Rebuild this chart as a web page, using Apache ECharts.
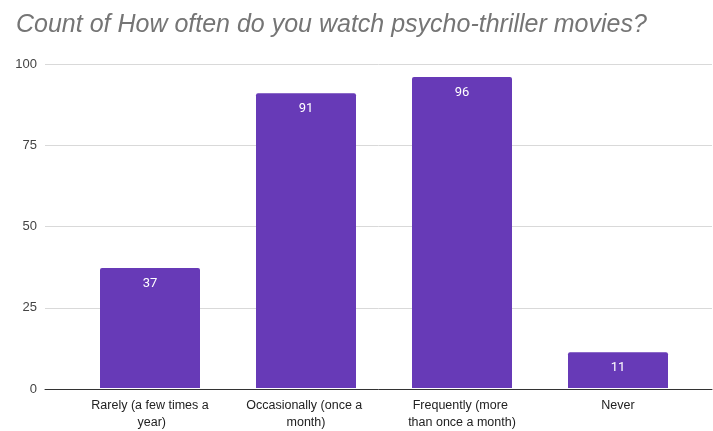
<!DOCTYPE html>
<html>
<head>
<meta charset="utf-8">
<script src="https://cdn.jsdelivr.net/npm/echarts@6/dist/echarts.min.js"></script>
<style>
	html, body { margin: 0; padding: 0; background: #fff; }
	#chart { width: 713px; height: 431px; }
</style>
</head>
<body>
<div id="chart"></div>
<script>
	var categories = ['Rarely (a few times a year)', 'Occasionally (once a month)', 'Frequently (more than once a month)', 'Never'];
	var counts = [37, 91, 96, 11];
	var yTicks = [0, 25, 50, 75, 100];

	var myChart = echarts.init(document.getElementById('chart'));

	// grid 0 carries the y labels, gridlines and baseline across the full width,
	// grid 1 holds the bars
	var option = {
		animation: false,
		title: {
			text: 'Count of How often do you watch psycho-thriller movies?',
			left: 11,
			top: 8,
			textStyle: {
				fontFamily: 'Liberation Sans',
				fontStyle: 'italic',
				fontWeight: 'normal',
				fontSize: 25,
				color: '#757575'
			}
		},
		grid: [
			{ left: 45, right: 1, top: 64, bottom: 42 },
			{ left: 72, right: 17, top: 64, bottom: 42 }
		],
		xAxis: [
			{
				gridIndex: 0, type: 'value', min: 0, max: 1,
				axisLine: { show: true, onZero: false, lineStyle: { color: '#333', width: 1 } },
				axisTick: { show: false }, axisLabel: { show: false }, splitLine: { show: false }
			},
			{
				gridIndex: 1, type: 'category', data: categories,
				axisLine: { show: false }, axisTick: { show: false },
				axisLabel: {
					interval: 0, margin: 9, width: 120, overflow: 'break',
					fontFamily: 'Liberation Sans', fontSize: 12.5, color: '#222', lineHeight: 17, align: 'center'
				}
			}
		],
		yAxis: [
			{
				gridIndex: 0, type: 'value', min: yTicks[0], max: yTicks[yTicks.length - 1], interval: 25,
				axisLine: { show: false }, axisTick: { show: false },
				axisLabel: { margin: 8, fontFamily: 'Liberation Sans', fontSize: 13, color: '#444' },
				splitLine: { lineStyle: { color: '#d9d9d9', width: 1 } }
			},
			{
				gridIndex: 1, type: 'value', min: 0, max: 100,
				show: false, splitLine: { show: false }
			}
		],
		series: [
			{
				type: 'bar', xAxisIndex: 1, yAxisIndex: 1,
				data: counts,
				barWidth: 100,
				itemStyle: { color: '#673ab7', borderRadius: [2, 2, 0, 0] },
				label: {
					show: true, position: 'insideTop', distance: 9,
					color: '#fff', fontFamily: 'Roboto', fontSize: 13
				}
			}
		]
	};

	myChart.setOption(option);
</script>
</body>
</html>
